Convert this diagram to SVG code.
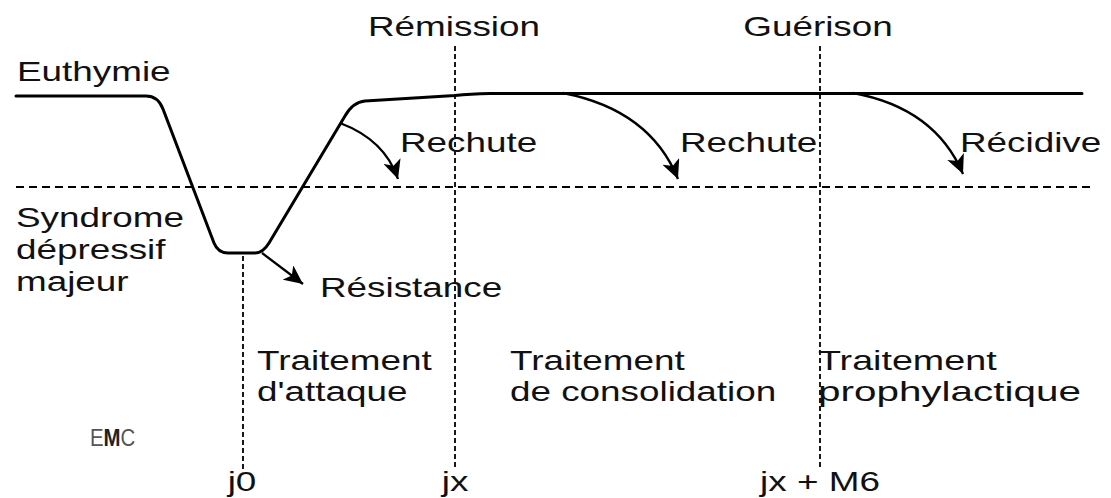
<svg xmlns="http://www.w3.org/2000/svg" width="1111" height="498" viewBox="0 0 1111 498">
<style>
.t{font-family:"Liberation Sans",Arial,sans-serif;font-size:27.5px;fill:#111}
.m{text-anchor:middle}
.main{fill:none;stroke:#000;stroke-width:3;stroke-linejoin:round;stroke-linecap:round}
.arr{fill:none;stroke:#000;stroke-width:2.3}
.hd{fill:none;stroke:#000;stroke-width:2;stroke-dasharray:8 5}
.vd{fill:none;stroke:#000;stroke-width:1.8;stroke-dasharray:5 3}
</style>
<defs>
<marker id="ah" markerUnits="userSpaceOnUse" markerWidth="22" markerHeight="18" refX="19" refY="9" orient="auto">
<path d="M0,0 L19,9 L0,18 L5,9 z" fill="#000"/>
</marker>
</defs>
<rect width="1111" height="498" fill="#fff"/>
<g id="connectors">
<line class="hd" x1="16" y1="187" x2="1090" y2="187"/>
<line class="vd" x1="243" y1="256" x2="243" y2="470"/>
<line class="vd" x1="455" y1="46" x2="455" y2="470"/>
<line class="vd" x1="820" y1="46" x2="820" y2="470"/>
<path id="curve" class="main" d="M16,96 L146,96 Q158,96 163,109 L214,243 Q218,253 228,253 L255,253 Q263,253 269,243 L345,116 Q353,102 365,101 L455,95.5 Q470,94 490,93.5 L1082,93.5"/>
<path class="arr" d="M340,123 Q385,140 398,179" marker-end="url(#ah)"/>
<path class="arr" d="M563,93 Q650,110 678,179" marker-end="url(#ah)"/>
<path class="arr" d="M853,93 Q935,108 963,174" marker-end="url(#ah)"/>
<path class="arr" d="M262,253 L303,284" marker-end="url(#ah)"/>
</g>
<g id="euthymie"><text class="t" transform="matrix(1.34 0 0 1 17 81)">Euthymie</text></g>
<g id="remission"><text class="t m" transform="matrix(1.34 0 0 1 454 36)">Rémission</text></g>
<g id="guerison"><text class="t m" transform="matrix(1.34 0 0 1 818 36)">Guérison</text></g>
<g id="rechute1"><text class="t" transform="matrix(1.34 0 0 1 400 152)">Rechute</text></g>
<g id="rechute2"><text class="t" transform="matrix(1.34 0 0 1 680 152)">Rechute</text></g>
<g id="recidive"><text class="t" transform="matrix(1.34 0 0 1 960 152)">Récidive</text></g>
<g id="syndrome">
<text class="t" transform="matrix(1.34 0 0 1 16 227)">Syndrome</text>
<text class="t" transform="matrix(1.34 0 0 1 16 259)">dépressif</text>
<text class="t" transform="matrix(1.34 0 0 1 16 291)">majeur</text>
</g>
<g id="resistance"><text class="t" transform="matrix(1.34 0 0 1 320 297)">Résistance</text></g>
<g id="attaque">
<text class="t" transform="matrix(1.34 0 0 1 257 370)">Traitement</text>
<text class="t" transform="matrix(1.34 0 0 1 257 401)">d'attaque</text>
</g>
<g id="consolidation">
<text class="t" transform="matrix(1.34 0 0 1 510 370)">Traitement</text>
<text class="t" transform="matrix(1.34 0 0 1 510 401)">de consolidation</text>
</g>
<g id="prophylactique">
<text class="t" transform="matrix(1.37 0 0 1 818 370)">Traitement</text>
<text class="t" transform="matrix(1.47 0 0 1 818 401)">prophylactique</text>
</g>
<g id="emc"><text transform="matrix(0.85 0 0 1 90 446)" style="font-family:'Liberation Sans',Arial,sans-serif;font-size:24px;fill:#555">E<tspan style="font-weight:bold;fill:#222">M</tspan>C</text></g>
<g id="j0"><text class="t m" transform="matrix(1.34 0 0 1 242 491)">j0</text></g>
<g id="jx"><text class="t m" transform="matrix(1.34 0 0 1 455 491)">jx</text></g>
<g id="jxm6"><text class="t m" transform="matrix(1.34 0 0 1 820 491)">jx + M6</text></g>
</svg>
